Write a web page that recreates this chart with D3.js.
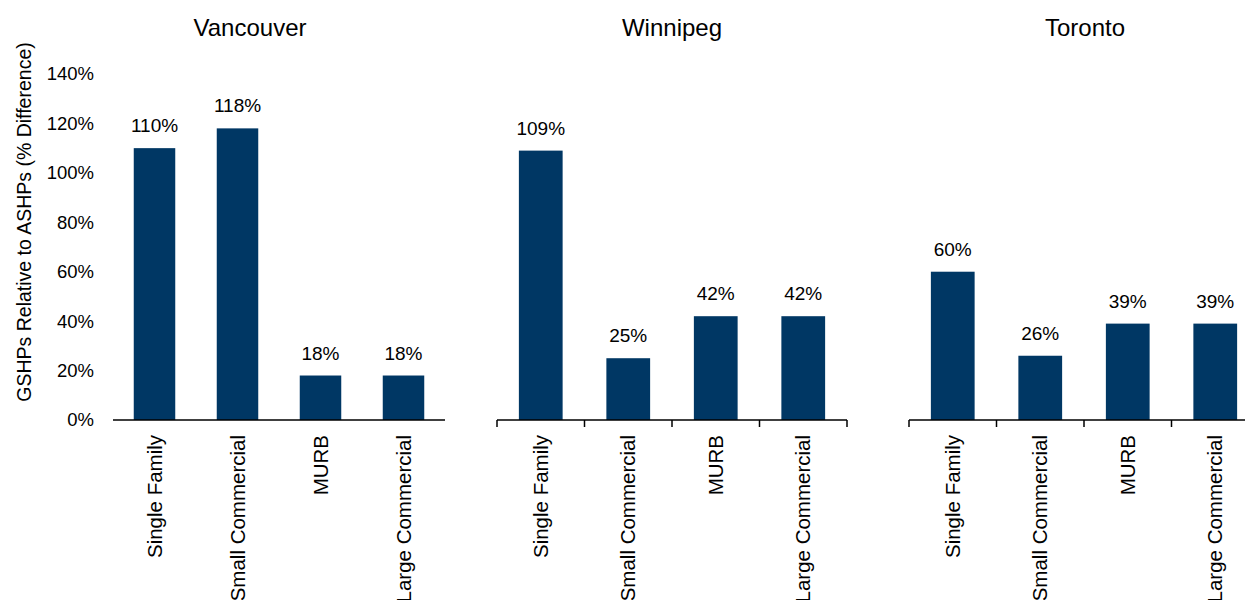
<!DOCTYPE html>
<html>
<head>
<meta charset="utf-8">
<script src="https://cdn.jsdelivr.net/npm/d3@7"></script>
<style>
  body { margin: 0; background: #fff; }
  text { font-family: "Liberation Sans", Arial, sans-serif; fill: #000; }
</style>
</head>
<body>
<svg id="chart" width="1245" height="600"></svg>
<script>
const categories = ["Single Family", "Small Commercial", "MURB", "Large Commercial"];
const cities = ["Vancouver", "Winnipeg", "Toronto"];
const vancouver = [110, 118, 18, 18];
const winnipeg = [109, 25, 42, 42];
const toronto = [60, 26, 39, 39];
const yTicks = [0, 20, 40, 60, 80, 100, 120, 140];
const yTitle = "GSHPs Relative to ASHPs (% Difference)";

const seriesByCity = [vancouver, winnipeg, toronto];
const panels = [
  { x0: 113, x1: 445, ticks: false, titleX: 250 },
  { x0: 497, x1: 847, ticks: true, titleX: 672 },
  { x0: 909, x1: 1259, ticks: true, titleX: 1085 }
];
const barColor = "#003764";

const svg = d3.select("#chart");
const y = d3.scaleLinear().domain([0, 140]).range([420, 74]);

// Y axis labels (no line, no ticks)
const yAxis = d3.axisLeft(y).tickValues(yTicks).tickSize(0).tickPadding(0)
  .tickFormat(d => d + "%");
const yg = svg.append("g").attr("transform", "translate(94,0)").call(yAxis);
yg.select(".domain").remove();
yg.selectAll("text").style("font-size", "18.5px").style("font-family", '"Liberation Sans", Arial, sans-serif').attr("fill", "#222");

// Y title
svg.append("text")
  .attr("transform", "translate(31,222) rotate(-90)")
  .attr("text-anchor", "middle")
  .style("font-size", "19.5px")
  .attr("fill", "#222")
  .text(yTitle);

cities.forEach((city, ci) => {
  const p = panels[ci];
  const vals = seriesByCity[ci];
  const x = d3.scaleBand().domain(categories).range([p.x0, p.x1])
    .paddingInner(0.5).paddingOuter(0.25);
  const g = svg.append("g");

  // title
  g.append("text")
    .attr("x", p.titleX).attr("y", 36)
    .attr("text-anchor", "middle")
    .style("font-size", "24px")
    .text(city);

  // bars
  g.selectAll("rect").data(categories).join("rect")
    .attr("x", d => x(d))
    .attr("width", x.bandwidth())
    .attr("y", (d, i) => y(vals[i]))
    .attr("height", (d, i) => y(0) - y(vals[i]))
    .attr("fill", barColor);

  // value labels
  g.selectAll("text.val").data(categories).join("text")
    .attr("class", "val")
    .attr("x", d => x(d) + x.bandwidth() / 2)
    .attr("y", (d, i) => y(vals[i]) - 16)
    .attr("text-anchor", "middle")
    .style("font-size", "19px")
    .text((d, i) => vals[i] + "%");

  // x axis line
  g.append("line")
    .attr("x1", p.x0).attr("x2", p.x1)
    .attr("y1", y(0)).attr("y2", y(0))
    .attr("stroke", "#000").attr("stroke-width", 1.5);

  // boundary ticks
  if (p.ticks) {
    const bounds = d3.range(categories.length + 1).map(i => p.x0 + i * x.step());
    g.selectAll("line.tk").data(bounds).join("line")
      .attr("class", "tk")
      .attr("x1", d => d).attr("x2", d => d)
      .attr("y1", y(0)).attr("y2", y(0) + 7)
      .attr("stroke", "#000").attr("stroke-width", 1.5);
  }

  // category labels
  g.selectAll("text.cat").data(categories).join("text")
    .attr("class", "cat")
    .attr("transform", d => `translate(${x(d) + x.bandwidth() / 2},435) rotate(-90)`)
    .attr("text-anchor", "end")
    .attr("dy", "0.35em")
    .style("font-size", "20.5px")
    .attr("fill", "#222")
    .text(d => d);
});
</script>
</body>
</html>
